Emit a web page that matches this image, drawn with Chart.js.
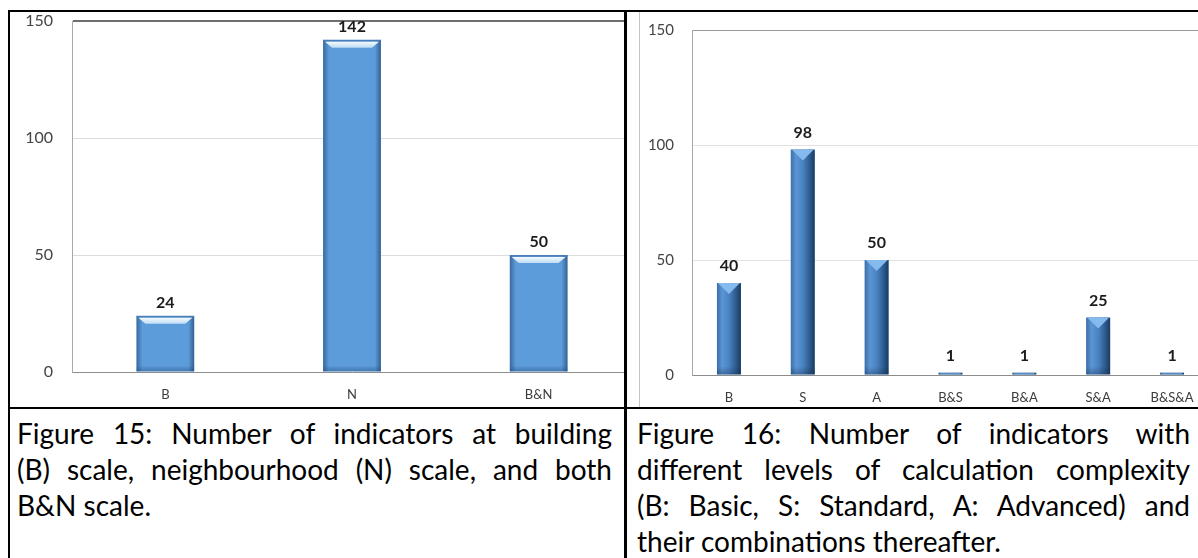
<!DOCTYPE html>
<html>
<head>
<meta charset="utf-8">
<script src="https://cdn.jsdelivr.net/npm/chart.js@4.4.1/dist/chart.umd.min.js"></script>
<style>
  html, body { margin: 0; padding: 0; background: #fff; }
  body { width: 1198px; height: 558px; overflow: hidden; position: relative; font-family: Lato, "Noto Sans", sans-serif; }
  .rule { position: absolute; background: #000; }
  .pane { position: absolute; overflow: hidden; background: #fff; }
  .box { position: relative; }
  .cap { position: absolute; font-family: Lato, sans-serif; font-size: 28px; line-height: 36px; color: #000; }
  .cap div { white-space: nowrap; text-align: justify; text-align-last: justify; }
  .cap div.last { text-align: left; text-align-last: left; }
</style>
</head>
<body>

<!-- figure 15: indicators by scale -->
<div class="pane" style="left:10px; top:12px; width:614px; height:395px;">
  <div class="box" style="width:640px; height:396px;"><canvas id="scaleChart"></canvas></div>
</div>

<!-- figure 16: indicators by calculation complexity -->
<div class="pane" style="left:640px; top:12px; width:558px; height:395px;">
  <div class="box" style="width:590px; height:394px;"><canvas id="complexityChart"></canvas></div>
</div>
<div style="position:absolute; left:639px; top:12px; width:1px; height:395px; background:#c4c4c4;"></div>

<!-- table rules -->
<div class="rule" style="left:8px; top:10px; width:1190px; height:2px;"></div>
<div class="rule" style="left:8px; top:10px; width:2px; height:548px;"></div>
<div class="rule" style="left:624px; top:10px; width:3px; height:548px;"></div>
<div class="rule" style="left:8px; top:407px; width:1190px; height:2px;"></div>

<!-- captions -->
<div class="cap" style="left:17px; top:415px; width:595px;">
  <div>Figure 15: Number of indicators at building</div>
  <div>(B) scale, neighbourhood (N) scale, and both</div>
  <div class="last">B&amp;N scale.</div>
</div>
<div class="cap" style="left:637px; top:415px; width:553px;">
  <div>Figure 16: Number of indicators with</div>
  <div>different levels of calculation complexity</div>
  <div>(B: Basic, S: Standard, A: Advanced) and</div>
  <div class="last">their combinations thereafter.</div>
</div>

<script>
// Indicator counts by spatial scale
const scaleLabels = ['B', 'N', 'B&N'];
const scaleCounts = [24, 142, 50];

// Indicator counts by calculation complexity
const complexityLabels = ['B', 'S', 'A', 'B&S', 'B&A', 'S&A', 'B&S&A'];
const complexityCounts = [40, 98, 50, 1, 1, 25, 1];

// Value axis ticks shared by both charts
const yTicks = [0, 50, 100, 150];

Chart.defaults.animation = false;
Chart.defaults.font.family = 'Lato, sans-serif';

// Paints the bevelled finish on each bar and writes its value above it
const barFinish = {
  id: 'barFinish',
  afterDatasetsDraw(chart, args, opts) {
    const ctx = chart.ctx;
    const meta = chart.getDatasetMeta(0);
    const values = chart.data.datasets[0].data;
    meta.data.forEach((bar, i) => {
      const { x, y, base, width } = bar.getProps(['x', 'y', 'base', 'width'], true);
      const x0 = x - width / 2, x1 = x + width / 2, h = base - y;
      ctx.save();
      ctx.beginPath();
      ctx.rect(x0, y, width, h);
      ctx.clip();
      if (opts.style === 'flat') {
        let g = ctx.createLinearGradient(x0, 0, x0 + 6, 0);
        g.addColorStop(0, 'rgba(30,62,105,0.55)');
        g.addColorStop(1, 'rgba(30,62,105,0)');
        ctx.fillStyle = g; ctx.fillRect(x0, y, 6, h);
        g = ctx.createLinearGradient(x1 - 6, 0, x1, 0);
        g.addColorStop(0, 'rgba(30,62,105,0)');
        g.addColorStop(1, 'rgba(30,62,105,0.65)');
        ctx.fillStyle = g; ctx.fillRect(x1 - 6, y, 6, h);
        g = ctx.createLinearGradient(0, base - 6, 0, base);
        g.addColorStop(0, 'rgba(30,62,105,0)');
        g.addColorStop(1, 'rgba(30,62,105,0.4)');
        ctx.fillStyle = g; ctx.fillRect(x0, base - 6, width, 6);
        ctx.fillStyle = '#4a7db3';
        ctx.fillRect(x0, y, width, 1.5);
        ctx.beginPath();
        ctx.moveTo(x0 + 2, y + 2);
        ctx.lineTo(x1 - 2, y + 2);
        ctx.lineTo(x1 - 9, y + 8);
        ctx.lineTo(x0 + 9, y + 8);
        ctx.closePath();
        g = ctx.createLinearGradient(0, y + 2, 0, y + 8);
        g.addColorStop(0, '#f4faff');
        g.addColorStop(1, '#bedcf4');
        ctx.fillStyle = g; ctx.fill();
      } else {
        let g = ctx.createLinearGradient(x0, 0, x1, 0);
        g.addColorStop(0, '#3b6fa9');
        g.addColorStop(0.22, '#5b95d3');
        g.addColorStop(0.5, '#4a83c2');
        g.addColorStop(0.78, '#2e5c90');
        g.addColorStop(1, '#1b3a5f');
        ctx.fillStyle = g; ctx.fillRect(x0, y, width, h);
        ctx.beginPath();
        ctx.moveTo(x0 + 1, y);
        ctx.lineTo(x1 - 1, y);
        ctx.lineTo(x, y + 11);
        ctx.closePath();
        ctx.fillStyle = '#84baee';
        ctx.fill();
        g = ctx.createLinearGradient(0, base - 8, 0, base);
        g.addColorStop(0, 'rgba(20,40,70,0)');
        g.addColorStop(1, 'rgba(20,40,70,0.35)');
        ctx.fillStyle = g; ctx.fillRect(x0, base - 8, width, 8);
      }
      ctx.restore();

      ctx.save();
      ctx.font = opts.labelFont;
      ctx.fillStyle = '#1c1c1c';
      ctx.textAlign = 'center';
      ctx.textBaseline = 'middle';
      ctx.fillText(String(values[i]), x, y - opts.labelGap);
      ctx.restore();
    });
  }
};

function makeChart(id, labels, counts, cfg) {
  return new Chart(document.getElementById(id), {
    type: 'bar',
    data: {
      labels: labels,
      datasets: [{
        data: counts,
        backgroundColor: cfg.barColor,
        borderWidth: 0,
        barPercentage: cfg.barPct,
        categoryPercentage: 1
      }]
    },
    options: {
      responsive: true,
      maintainAspectRatio: false,
      layout: { padding: cfg.padding },
      plugins: {
        legend: { display: false },
        tooltip: { enabled: false },
        barFinish: { style: cfg.style, labelFont: 'bold 16px Lato', labelGap: cfg.labelGap }
      },
      scales: {
        x: {
          grid: { display: false, drawTicks: false },
          border: { color: '#8c8c8c', width: 1 },
          ticks: { autoSkip: false, maxRotation: 0, padding: 15, color: '#3c3c3c', font: { size: 13 } },
          afterFit: s => { s.height = cfg.xHeight; s.paddingLeft = 0; s.paddingRight = 0; }
        },
        y: {
          min: 0, max: 150,
          afterBuildTicks: s => { s.ticks = yTicks.map(v => ({ value: v })); },
          grid: {
            drawTicks: false,
            color: c => c.tick.value === 150 ? cfg.topColor : (c.tick.value === 0 ? 'rgba(0,0,0,0)' : cfg.gridColor),
            lineWidth: c => c.tick.value === 150 ? cfg.topWidth : 1
          },
          border: { color: '#a8a8a8', width: 1 },
          ticks: { padding: cfg.tickPad, color: '#444', font: { size: cfg.tickSize } },
          afterFit: s => { s.width = cfg.yWidth; s.paddingTop = 0; s.paddingBottom = 0; }
        }
      }
    },
    plugins: [barFinish]
  });
}

makeChart('scaleChart', scaleLabels, scaleCounts, {
  style: 'flat', barColor: '#5c9cda', barPct: 0.31, labelGap: 13,
  padding: { left: 0, right: 18, top: 9, bottom: 0 },
  xHeight: 36, yWidth: 62, tickPad: 19, tickSize: 16,
  topColor: '#6e6e6e', topWidth: 2, gridColor: '#dcdcdc'
});

makeChart('complexityChart', complexityLabels, complexityCounts, {
  style: 'round', barColor: '#4a83c2', barPct: 0.325, labelGap: 17,
  padding: { left: 0, right: 21, top: 18, bottom: 0 },
  xHeight: 31, yWidth: 52, tickPad: 18, tickSize: 15,
  topColor: '#9a9a9a', topWidth: 1, gridColor: '#e2e2e2'
});
</script>
</body>
</html>
